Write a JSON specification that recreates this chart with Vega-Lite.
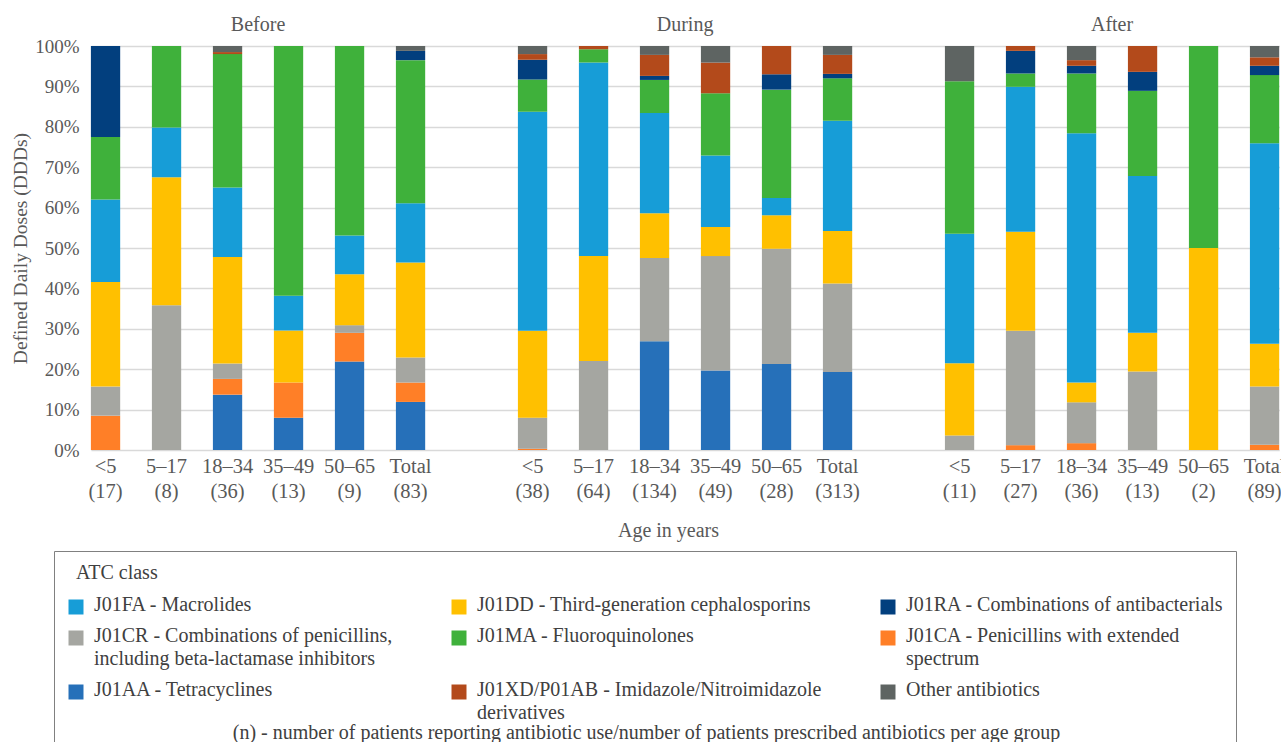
{
  "$schema": "https://vega.github.io/schema/vega-lite/v6.json",
  "autosize": "none",
  "width": 1199,
  "height": 404,
  "padding": {"left": 82, "top": 46, "right": 0, "bottom": 292},
  "background": "white",
  "config": {
    "font": "Liberation Serif",
    "view": {"stroke": null}
  },
  "title": {
    "text": "(n) - number of patients reporting antibiotic use/number of patients prescribed antibiotics per age group",
    "orient": "bottom",
    "offset": -36,
    "dx": -35,
    "fontSize": 20,
    "fontWeight": "normal",
    "color": "#404040",
    "anchor": "middle"
  },
  "datasets": {
    "bars": [
      {"slot": "Before|<5|(17)", "cls": "J01CA", "ord": 2, "pct": 8.5},
      {"slot": "Before|<5|(17)", "cls": "J01CR", "ord": 3, "pct": 7.2},
      {"slot": "Before|<5|(17)", "cls": "J01DD", "ord": 4, "pct": 25.9},
      {"slot": "Before|<5|(17)", "cls": "J01FA", "ord": 5, "pct": 20.4},
      {"slot": "Before|<5|(17)", "cls": "J01MA", "ord": 6, "pct": 15.5},
      {"slot": "Before|<5|(17)", "cls": "J01RA", "ord": 7, "pct": 22.5},

      {"slot": "Before|5–17|(8)", "cls": "J01CR", "ord": 3, "pct": 35.8},
      {"slot": "Before|5–17|(8)", "cls": "J01DD", "ord": 4, "pct": 31.7},
      {"slot": "Before|5–17|(8)", "cls": "J01FA", "ord": 5, "pct": 12.3},
      {"slot": "Before|5–17|(8)", "cls": "J01MA", "ord": 6, "pct": 20.2},

      {"slot": "Before|18–34|(36)", "cls": "J01AA", "ord": 1, "pct": 13.7},
      {"slot": "Before|18–34|(36)", "cls": "J01CA", "ord": 2, "pct": 3.9},
      {"slot": "Before|18–34|(36)", "cls": "J01CR", "ord": 3, "pct": 3.8},
      {"slot": "Before|18–34|(36)", "cls": "J01DD", "ord": 4, "pct": 26.4},
      {"slot": "Before|18–34|(36)", "cls": "J01FA", "ord": 5, "pct": 17.2},
      {"slot": "Before|18–34|(36)", "cls": "J01MA", "ord": 6, "pct": 33.0},
      {"slot": "Before|18–34|(36)", "cls": "J01XD", "ord": 8, "pct": 0.5},
      {"slot": "Before|18–34|(36)", "cls": "Other", "ord": 9, "pct": 1.5},

      {"slot": "Before|35–49|(13)", "cls": "J01AA", "ord": 1, "pct": 8.0},
      {"slot": "Before|35–49|(13)", "cls": "J01CA", "ord": 2, "pct": 8.7},
      {"slot": "Before|35–49|(13)", "cls": "J01DD", "ord": 4, "pct": 12.9},
      {"slot": "Before|35–49|(13)", "cls": "J01FA", "ord": 5, "pct": 8.6},
      {"slot": "Before|35–49|(13)", "cls": "J01MA", "ord": 6, "pct": 61.8},

      {"slot": "Before|50–65|(9)", "cls": "J01AA", "ord": 1, "pct": 21.9},
      {"slot": "Before|50–65|(9)", "cls": "J01CA", "ord": 2, "pct": 7.1},
      {"slot": "Before|50–65|(9)", "cls": "J01CR", "ord": 3, "pct": 1.9},
      {"slot": "Before|50–65|(9)", "cls": "J01DD", "ord": 4, "pct": 12.6},
      {"slot": "Before|50–65|(9)", "cls": "J01FA", "ord": 5, "pct": 9.6},
      {"slot": "Before|50–65|(9)", "cls": "J01MA", "ord": 6, "pct": 46.9},

      {"slot": "Before|Total|(83)", "cls": "J01AA", "ord": 1, "pct": 11.9},
      {"slot": "Before|Total|(83)", "cls": "J01CA", "ord": 2, "pct": 4.8},
      {"slot": "Before|Total|(83)", "cls": "J01CR", "ord": 3, "pct": 6.2},
      {"slot": "Before|Total|(83)", "cls": "J01DD", "ord": 4, "pct": 23.5},
      {"slot": "Before|Total|(83)", "cls": "J01FA", "ord": 5, "pct": 14.7},
      {"slot": "Before|Total|(83)", "cls": "J01MA", "ord": 6, "pct": 35.4},
      {"slot": "Before|Total|(83)", "cls": "J01RA", "ord": 7, "pct": 2.3},
      {"slot": "Before|Total|(83)", "cls": "Other", "ord": 9, "pct": 1.2},

      {"slot": "During|<5|(38)", "cls": "J01CA", "ord": 2, "pct": 0.3},
      {"slot": "During|<5|(38)", "cls": "J01CR", "ord": 3, "pct": 7.7},
      {"slot": "During|<5|(38)", "cls": "J01DD", "ord": 4, "pct": 21.5},
      {"slot": "During|<5|(38)", "cls": "J01FA", "ord": 5, "pct": 54.2},
      {"slot": "During|<5|(38)", "cls": "J01MA", "ord": 6, "pct": 8.0},
      {"slot": "During|<5|(38)", "cls": "J01RA", "ord": 7, "pct": 4.9},
      {"slot": "During|<5|(38)", "cls": "J01XD", "ord": 8, "pct": 1.4},
      {"slot": "During|<5|(38)", "cls": "Other", "ord": 9, "pct": 2.0},

      {"slot": "During|5–17|(64)", "cls": "J01CR", "ord": 3, "pct": 22.0},
      {"slot": "During|5–17|(64)", "cls": "J01DD", "ord": 4, "pct": 26.0},
      {"slot": "During|5–17|(64)", "cls": "J01FA", "ord": 5, "pct": 47.9},
      {"slot": "During|5–17|(64)", "cls": "J01MA", "ord": 6, "pct": 3.3},
      {"slot": "During|5–17|(64)", "cls": "J01XD", "ord": 8, "pct": 0.8},

      {"slot": "During|18–34|(134)", "cls": "J01AA", "ord": 1, "pct": 26.9},
      {"slot": "During|18–34|(134)", "cls": "J01CR", "ord": 3, "pct": 20.6},
      {"slot": "During|18–34|(134)", "cls": "J01DD", "ord": 4, "pct": 11.1},
      {"slot": "During|18–34|(134)", "cls": "J01FA", "ord": 5, "pct": 24.8},
      {"slot": "During|18–34|(134)", "cls": "J01MA", "ord": 6, "pct": 8.2},
      {"slot": "During|18–34|(134)", "cls": "J01RA", "ord": 7, "pct": 1.0},
      {"slot": "During|18–34|(134)", "cls": "J01XD", "ord": 8, "pct": 5.2},
      {"slot": "During|18–34|(134)", "cls": "Other", "ord": 9, "pct": 2.2},

      {"slot": "During|35–49|(49)", "cls": "J01AA", "ord": 1, "pct": 19.7},
      {"slot": "During|35–49|(49)", "cls": "J01CR", "ord": 3, "pct": 28.3},
      {"slot": "During|35–49|(49)", "cls": "J01DD", "ord": 4, "pct": 7.2},
      {"slot": "During|35–49|(49)", "cls": "J01FA", "ord": 5, "pct": 17.7},
      {"slot": "During|35–49|(49)", "cls": "J01MA", "ord": 6, "pct": 15.4},
      {"slot": "During|35–49|(49)", "cls": "J01XD", "ord": 8, "pct": 7.6},
      {"slot": "During|35–49|(49)", "cls": "Other", "ord": 9, "pct": 4.1},

      {"slot": "During|50–65|(28)", "cls": "J01AA", "ord": 1, "pct": 21.3},
      {"slot": "During|50–65|(28)", "cls": "J01CR", "ord": 3, "pct": 28.5},
      {"slot": "During|50–65|(28)", "cls": "J01DD", "ord": 4, "pct": 8.3},
      {"slot": "During|50–65|(28)", "cls": "J01FA", "ord": 5, "pct": 4.3},
      {"slot": "During|50–65|(28)", "cls": "J01MA", "ord": 6, "pct": 26.8},
      {"slot": "During|50–65|(28)", "cls": "J01RA", "ord": 7, "pct": 3.8},
      {"slot": "During|50–65|(28)", "cls": "J01XD", "ord": 8, "pct": 7.0},

      {"slot": "During|Total|(313)", "cls": "J01AA", "ord": 1, "pct": 19.3},
      {"slot": "During|Total|(313)", "cls": "J01CR", "ord": 3, "pct": 21.9},
      {"slot": "During|Total|(313)", "cls": "J01DD", "ord": 4, "pct": 13.0},
      {"slot": "During|Total|(313)", "cls": "J01FA", "ord": 5, "pct": 27.3},
      {"slot": "During|Total|(313)", "cls": "J01MA", "ord": 6, "pct": 10.5},
      {"slot": "During|Total|(313)", "cls": "J01RA", "ord": 7, "pct": 1.1},
      {"slot": "During|Total|(313)", "cls": "J01XD", "ord": 8, "pct": 4.7},
      {"slot": "During|Total|(313)", "cls": "Other", "ord": 9, "pct": 2.2},

      {"slot": "After|<5|(11)", "cls": "J01CR", "ord": 3, "pct": 3.6},
      {"slot": "After|<5|(11)", "cls": "J01DD", "ord": 4, "pct": 17.9},
      {"slot": "After|<5|(11)", "cls": "J01FA", "ord": 5, "pct": 32.0},
      {"slot": "After|<5|(11)", "cls": "J01MA", "ord": 6, "pct": 37.8},
      {"slot": "After|<5|(11)", "cls": "Other", "ord": 9, "pct": 8.7},

      {"slot": "After|5–17|(27)", "cls": "J01CA", "ord": 2, "pct": 1.2},
      {"slot": "After|5–17|(27)", "cls": "J01CR", "ord": 3, "pct": 28.3},
      {"slot": "After|5–17|(27)", "cls": "J01DD", "ord": 4, "pct": 24.5},
      {"slot": "After|5–17|(27)", "cls": "J01FA", "ord": 5, "pct": 35.9},
      {"slot": "After|5–17|(27)", "cls": "J01MA", "ord": 6, "pct": 3.3},
      {"slot": "After|5–17|(27)", "cls": "J01RA", "ord": 7, "pct": 5.6},
      {"slot": "After|5–17|(27)", "cls": "J01XD", "ord": 8, "pct": 1.2},

      {"slot": "After|18–34|(36)", "cls": "J01CA", "ord": 2, "pct": 1.7},
      {"slot": "After|18–34|(36)", "cls": "J01CR", "ord": 3, "pct": 10.1},
      {"slot": "After|18–34|(36)", "cls": "J01DD", "ord": 4, "pct": 4.9},
      {"slot": "After|18–34|(36)", "cls": "J01FA", "ord": 5, "pct": 61.7},
      {"slot": "After|18–34|(36)", "cls": "J01MA", "ord": 6, "pct": 14.8},
      {"slot": "After|18–34|(36)", "cls": "J01RA", "ord": 7, "pct": 1.9},
      {"slot": "After|18–34|(36)", "cls": "J01XD", "ord": 8, "pct": 1.4},
      {"slot": "After|18–34|(36)", "cls": "Other", "ord": 9, "pct": 3.5},

      {"slot": "After|35–49|(13)", "cls": "J01CR", "ord": 3, "pct": 19.4},
      {"slot": "After|35–49|(13)", "cls": "J01DD", "ord": 4, "pct": 9.6},
      {"slot": "After|35–49|(13)", "cls": "J01FA", "ord": 5, "pct": 38.8},
      {"slot": "After|35–49|(13)", "cls": "J01MA", "ord": 6, "pct": 21.1},
      {"slot": "After|35–49|(13)", "cls": "J01RA", "ord": 7, "pct": 4.7},
      {"slot": "After|35–49|(13)", "cls": "J01XD", "ord": 8, "pct": 6.4},

      {"slot": "After|50–65|(2)", "cls": "J01DD", "ord": 4, "pct": 50.0},
      {"slot": "After|50–65|(2)", "cls": "J01MA", "ord": 6, "pct": 50.0},

      {"slot": "After|Total|(89)", "cls": "J01CA", "ord": 2, "pct": 1.3},
      {"slot": "After|Total|(89)", "cls": "J01CR", "ord": 3, "pct": 14.4},
      {"slot": "After|Total|(89)", "cls": "J01DD", "ord": 4, "pct": 10.6},
      {"slot": "After|Total|(89)", "cls": "J01FA", "ord": 5, "pct": 49.6},
      {"slot": "After|Total|(89)", "cls": "J01MA", "ord": 6, "pct": 16.9},
      {"slot": "After|Total|(89)", "cls": "J01RA", "ord": 7, "pct": 2.3},
      {"slot": "After|Total|(89)", "cls": "J01XD", "ord": 8, "pct": 2.1},
      {"slot": "After|Total|(89)", "cls": "Other", "ord": 9, "pct": 2.8}
    ],
    "groups": [
      {"slot": "Before|18–34|(36)", "period": "Before"},
      {"slot": "During|18–34|(134)", "period": "During"},
      {"slot": "After|18–34|(36)", "period": "After"}
    ]
  },
  "layer": [
    {
      "data": {"name": "bars"},
      "mark": {"type": "bar"},
      "encoding": {
        "x": {
          "field": "slot",
          "type": "nominal",
          "title": "Age in years",
          "scale": {
            "domain": [
              "Before|<5|(17)", "Before|5–17|(8)", "Before|18–34|(36)", "Before|35–49|(13)", "Before|50–65|(9)", "Before|Total|(83)",
              "gap1",
              "During|<5|(38)", "During|5–17|(64)", "During|18–34|(134)", "During|35–49|(49)", "During|50–65|(28)", "During|Total|(313)",
              "gap2",
              "After|<5|(11)", "After|5–17|(27)", "After|18–34|(36)", "After|35–49|(13)", "After|50–65|(2)", "After|Total|(89)"
            ],
            "range": [8.9, 1197.2],
            "paddingInner": 0.52,
            "paddingOuter": 0
          },
          "axis": {
            "labelExpr": "indexof(datum.value, '|') < 0 ? '' : slice(split(datum.value, '|'), 1)",
            "labelAngle": 0,
            "ticks": false,
            "domain": false,
            "grid": false,
            "labelFontSize": 20.5,
            "labelColor": "#595959",
            "labelPadding": 6,
            "labelLineHeight": 25,
            "labelLimit": 200,
            "labelOverlap": false,
            "titleFontSize": 20,
            "titleFontWeight": "normal",
            "titleColor": "#595959",
            "titlePadding": 19,
            "titleX": 586
          }
        },
        "y": {
          "field": "pct",
          "type": "quantitative",
          "stack": "zero",
          "title": "Defined Daily Doses (DDDs)",
          "scale": {"domain": [0, 100], "nice": false},
          "axis": {
            "values": [0, 10, 20, 30, 40, 50, 60, 70, 80, 90, 100],
            "labelExpr": "datum.value + '%'",
            "ticks": false,
            "domain": false,
            "gridColor": "#d9d9d9",
            "gridWidth": 1.5,
            "labelFontSize": 19,
            "labelColor": "#595959",
            "labelPadding": 3,
            "titleFontSize": 19.5,
            "titleFontWeight": "normal",
            "titleColor": "#595959",
            "titlePadding": 4
          }
        },
        "color": {
          "field": "cls",
          "type": "nominal",
          "scale": {
            "domain": ["J01FA", "J01DD", "J01RA", "J01CR", "J01MA", "J01CA", "J01AA", "J01XD", "Other"],
            "range": ["#179dd7", "#ffc000", "#023f7e", "#a5a6a1", "#3fb13b", "#ff7f27", "#2670b9", "#b34a1b", "#5e6462"]
          },
          "legend": {
            "orient": "none",
            "direction": "horizontal",
            "legendX": -28,
            "legendY": 505,
            "title": "ATC class",
            "titleFontSize": 20,
            "titleFontWeight": "normal",
            "titleColor": "#404040",
            "titlePadding": 14,
            "columns": 3,
            "columnPadding": 56,
            "rowPadding": 11,
            "symbolType": "square",
            "symbolSize": 225,
            "symbolStrokeWidth": 0,
            "labelFontSize": 20,
            "labelColor": "#404040",
            "labelLimit": 1000,
            "labelOffset": 8,
            "labelBaseline": "top",
            "padding": 12,
            "strokeColor": "#808080",
            "labelExpr": "datum.label == 'J01FA' ? ['J01FA - Macrolides'] : datum.label == 'J01DD' ? ['J01DD - Third-generation cephalosporins'] : datum.label == 'J01RA' ? ['J01RA - Combinations of antibacterials'] : datum.label == 'J01CR' ? ['J01CR - Combinations of penicillins,', 'including beta-lactamase inhibitors'] : datum.label == 'J01MA' ? ['J01MA - Fluoroquinolones'] : datum.label == 'J01CA' ? ['J01CA - Penicillins with extended', 'spectrum'] : datum.label == 'J01AA' ? ['J01AA - Tetracyclines'] : datum.label == 'J01XD' ? ['J01XD/P01AB - Imidazole/Nitroimidazole', 'derivatives'] : ['Other antibiotics', '', '']",
            "encode": {
              "labels": {"update": {"dy": {"value": -12}, "lineHeight": {"value": 23}}},
              "title": {"update": {"dx": {"value": 10}}}
            }
          }
        },
        "order": {"field": "ord", "type": "quantitative", "sort": "ascending"}
      }
    },
    {
      "data": {"name": "groups"},
      "mark": {"type": "text", "fontSize": 20, "color": "#595959", "dx": 30.5, "dy": -21, "baseline": "middle", "align": "center"},
      "encoding": {
        "x": {"field": "slot", "type": "nominal", "title": "Age in years"},
        "y": {"datum": 100, "type": "quantitative", "title": "Defined Daily Doses (DDDs)"},
        "text": {"field": "period", "type": "nominal"}
      }
    }
  ]
}
